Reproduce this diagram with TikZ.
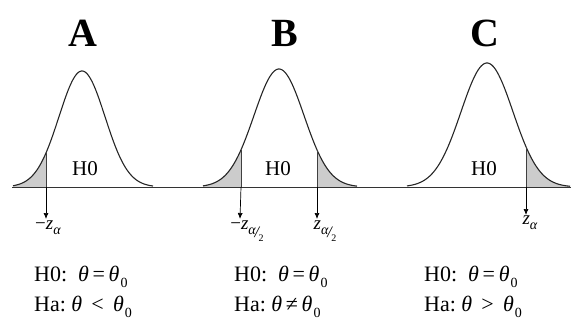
\documentclass[tikz,border=0pt]{standalone}
\usepackage{fontspec}
\setmainfont{Liberation Serif}
\usetikzlibrary{arrows.meta}
\newcommand{\zsub}[1]{\textit{z}\raisebox{-0.5ex}{\fontsize{14}{14}\selectfont #1}}
\newcommand{\ahalf}{\textit{α}\kern-0.1em\raisebox{-0.5ex}{\fontsize{16}{16}\selectfont\textit{/}}\kern-0.12em\raisebox{-1.05ex}{\fontsize{10}{10}\selectfont 2}}
\newcommand{\thz}{\textit{θ}\kern0.05em\raisebox{-0.6ex}{\fontsize{14}{14}\selectfont 0}}
\begin{document}
\begin{tikzpicture}[x=1pt,y=-1pt,
  curve/.style={line width=1.1pt,color=black!85},
  tail/.style={fill=black!20,draw=none},
  cut/.style={line width=0.7pt,color=black!75},
  arr/.style={line width=0.7pt,color=black,-{Latex[length=6pt,width=5pt]}},
  title/.style={font=\fontsize{40}{40}\selectfont\bfseries},
  hzero/.style={font=\fontsize{21}{21}\selectfont},
  zlab/.style={font=\fontsize{19}{19}\selectfont,anchor=north,inner sep=1pt},
  hyp/.style={font=\fontsize{22}{22}\selectfont,anchor=west,inner sep=0pt}]
\useasboundingbox (0,0) rectangle (571,325);
% shaded tails
\fill[tail] plot[domain=13:46,samples=30] ({\x},{187-116*exp(-((\x-82)^2)/(2*23^2))}) -- (46,187) -- (13,187) -- cycle;
\fill[tail] plot[domain=203:241,samples=30] ({\x},{187-118*exp(-((\x-279)^2)/(2*25^2))}) -- (241,187) -- (203,187) -- cycle;
\fill[tail] plot[domain=317:357,samples=30] ({\x},{187-118*exp(-((\x-279)^2)/(2*25^2))}) -- (357,187) -- (317,187) -- cycle;
\fill[tail] plot[domain=526:570,samples=30] ({\x},{187-124*exp(-((\x-487)^2)/(2*26^2))}) -- (570,187) -- (526,187) -- cycle;
% curves
\draw[curve] plot[domain=13:153,samples=120] ({\x},{187-116*exp(-((\x-82)^2)/(2*23^2))});
\draw[curve] plot[domain=203:357,samples=120] ({\x},{187-118*exp(-((\x-279)^2)/(2*25^2))});
\draw[curve] plot[domain=407:570,samples=120] ({\x},{187-124*exp(-((\x-487)^2)/(2*26^2))});
% axis
\coordinate (axl) at (12,187);
\coordinate (axr) at (571,187);
\draw[line width=0.8pt,color=black!80] (axl) -- (axr);
% cut lines
\coordinate (ca) at (46,{187-116*exp(-((46-82)^2)/(2*23^2))});
\coordinate (cb1) at (241,{187-118*exp(-((241-279)^2)/(2*25^2))});
\coordinate (cb2) at (317,{187-118*exp(-((317-279)^2)/(2*25^2))});
\coordinate (cc) at (526,{187-124*exp(-((526-487)^2)/(2*26^2))});
\coordinate (ca0) at (46,187);
\coordinate (cb10) at (241,187);
\coordinate (cb20) at (317,187);
\coordinate (cc0) at (526,187);
\draw[cut] (ca) -- (ca0);
\draw[cut] (cb1) -- (cb10);
\draw[cut] (cb2) -- (cb20);
\draw[cut] (cc) -- (cc0);
% labels
\node[zlab] (la) at (48,220) {−\zsub{\textit{α}}};
\node[zlab] (lb1) at (247,220) {−\zsub{\ahalf}};
\node[zlab] (lc2) at (325,220) {\zsub{\ahalf}};
\node[zlab] (lc) at (530,215) {\zsub{\textit{α}}};
\coordinate (ta) at (46,219);
\coordinate (tb1) at (240,219);
\coordinate (tb2) at (317,219);
\coordinate (tc) at (526,215);
\draw[arr] (ca0) -- (ta);
\draw[arr] (cb10) -- (tb1);
\draw[arr] (cb20) -- (tb2);
\draw[arr] (cc0) -- (tc);
% titles
\node[title] (tA) at (83,33) {A};
\node[title] (tB) at (285,33) {B};
\node[title] (tC) at (485,33) {C};
% H0 inside
\node[hzero] (ha) at (85,169) {H0};
\node[hzero] (hb) at (278,169) {H0};
\node[hzero] (hc) at (484,169) {H0};
% hypotheses
\node[hyp] (a1) at (34,277) {H0:\ \ \textit{θ}\,=\,\thz};
\node[hyp] (a2) at (34,307) {Ha:\ \textit{θ} \,<\, \thz};
\node[hyp] (b1) at (234,277) {H0:\ \ \textit{θ}\,=\,\thz};
\node[hyp] (b2) at (234,307) {Ha:\ \textit{θ}\,≠\,\thz};
\node[hyp] (c1) at (424,277) {H0:\ \ \textit{θ}\,=\,\thz};
\node[hyp] (c2) at (424,307) {Ha:\ \textit{θ} \,>\, \thz};
\end{tikzpicture}
\end{document}
